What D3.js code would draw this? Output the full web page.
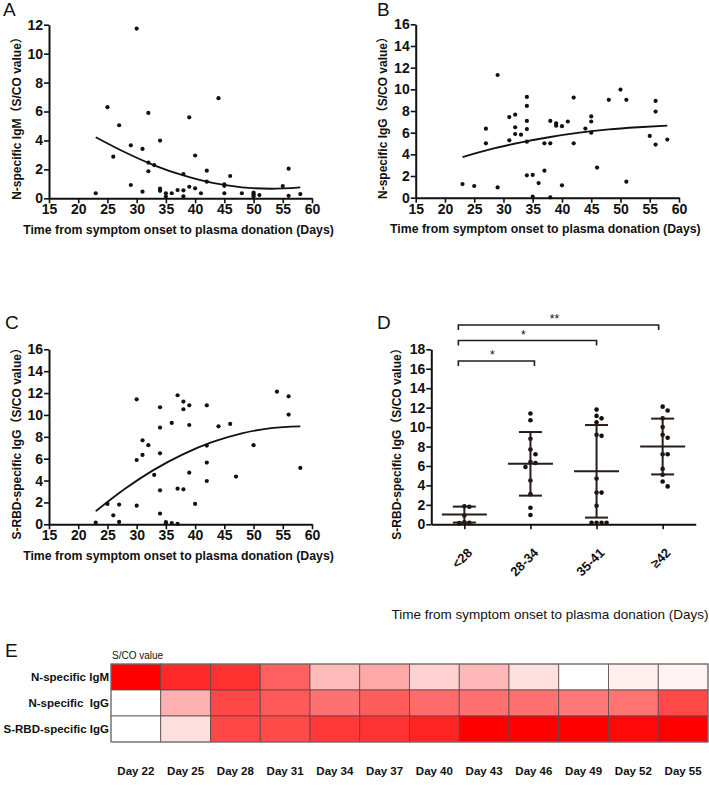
<!DOCTYPE html>
<html><head><meta charset="utf-8">
<script src="https://cdn.jsdelivr.net/npm/d3@7"></script>
<style>
body{margin:0;background:#fff;}
svg{display:block;font-family:"Liberation Sans",Arial,"Noto Sans CJK SC",sans-serif;}
</style></head><body>
<svg id="chart" width="709" height="792"></svg>
<script>
// ---------- DATA ----------
const dayTicks = [15,20,25,30,35,40,45,50,55,60];

// Panel A: N-specific IgM
const aDays = [23,25,26,27,29,29,30,31,31,32,32,32,33,34,34,34,35,35,36,37,38,38,38,39,39,40,40,41,42,42,44,45,45,45,46,48,50,50,50,51,55,56,56,58];
const aValues = [0.35,6.3,2.88,5.05,3.66,0.92,11.73,3.41,0.46,5.9,2.47,1.87,2.3,3.99,0.67,0.52,0.35,0.12,0.35,0.57,0.55,1.68,0.14,5.6,0.8,2.96,0.69,0.35,1.91,1.15,6.92,0.97,0.86,0.35,1.54,0.35,0.39,0.28,0.14,0.22,0.85,2.05,0.17,0.29];
const aFitDays = [23,28,33,38,43,48,53,58];
const aFitValues = [4.22,3.18,2.28,1.58,1.06,0.76,0.66,0.76];

// Panel B: N-specific IgG
const bDays = [23,25,27,27,29,29,31,31,32,32,32,33,34,34,34,34,34,34,35,35,36,37,37,38,38,38,39,39,40,40,41,42,42,44,45,45,45,46,48,50,51,51,55,56,56,56,58];
const bValues = [1.26,1.08,6.37,5.02,0.95,11.32,7.44,5.29,7.66,6.5,5.88,5.82,9.3,8.47,7.08,6.33,5.17,2.06,2.1,0.09,1.35,5.02,2.49,7.08,5.02,0.03,6.86,6.65,6.6,1.14,7.03,9.24,5.02,6.38,7.5,7.03,6.0,2.78,9.03,9.98,9.03,1.48,5.7,8.93,7.95,4.9,5.36];
const bFitDays = [23,28,33,38,43,48,53,58];
const bFitValues = [3.75,4.5,5.1,5.6,6.0,6.3,6.5,6.65];

// Panel C: S-RBD-specific IgG
const cDays = [23,25,26,27,27,30,30,30,31,31,32,33,34,34,34,34,34,35,35,36,36,37,37,37,38,38,38,39,39,39,40,42,42,42,42,44,46,47,50,54,56,56,58];
const cValues = [0.15,1.86,0.82,1.8,0.22,11.43,5.88,1.7,7.68,6.34,7.23,4.51,10.7,8.84,6.49,3.11,0.98,0.2,0.08,9.27,0.12,11.8,3.26,0.04,11.22,10.52,3.2,10.88,9.08,4.72,1.86,10.88,7.2,5.64,3.96,8.96,9.18,4.36,7.23,12.13,11.7,10.03,5.15];
const cFitDays = [23,28,33,38,43,48,53,58];
const cFitValues = [1.2,3.25,5.0,6.42,7.53,8.32,8.79,8.95];

// Panel D: S-RBD-specific IgG by group
const dGroups = ["<28","28-34","35-41","\u226542"];
const dPoints = [
  [1.85,1.8,0.9,0.2,0.15,0.12],
  [11.4,10.7,8.8,7.7,7.2,6.4,6.3,5.9,4.5,3.1,1.7,0.96],
  [11.8,11.15,10.9,10.5,9.2,9.1,4.7,3.26,3.26,1.9,0.15,0.15,0.15,0.15],
  [12.1,11.7,10.9,10.0,9.2,8.9,7.2,7.2,5.7,5.1,4.4,3.9]
];
const dMeans = [1.0,6.22,5.45,8.0];
const dSDs = [0.82,3.27,4.76,2.87];
const dBrackets = [
  {from:"<28", to:"\u226542", level:20.5, label:"**"},
  {from:"<28", to:"35-41", level:18.9, label:"*"},
  {from:"<28", to:"28-34", level:16.8, label:"*"}
];

// Panel E: heat map (relative S/CO intensity, 0 = white, 1 = red)
const eDays = ["Day 22","Day 25","Day 28","Day 31","Day 34","Day 37","Day 40","Day 43","Day 46","Day 49","Day 52","Day 55"];
const eRows = ["N-specific IgM","N-specific  IgG","S-RBD-specific IgG"];
const eIgM = [1.0,0.84,0.81,0.62,0.27,0.34,0.18,0.28,0.12,0.0,0.06,0.05];
const eIgG = [0.0,0.31,0.72,0.65,0.56,0.64,0.58,0.56,0.56,0.53,0.55,0.71];
const eRBD = [0.0,0.12,0.72,0.71,0.78,0.8,0.86,1.0,1.0,1.0,0.97,1.0];

// ---------- DRAW ----------
const svg = d3.select("#chart");
const ink = "#111";

function panelLabel(x,y,t){
  svg.append("text").attr("x",x).attr("y",y).attr("font-size",19).attr("fill",ink).text(t);
}

function styleAxis(g){
  g.select(".domain").attr("stroke",ink).attr("stroke-width",2);
  g.selectAll(".tick line").attr("stroke",ink).attr("stroke-width",1.6);
  g.selectAll(".tick text").attr("fill",ink).attr("font-size",14).attr("font-weight",700)
    .attr("font-family",'"Liberation Sans",Arial,sans-serif');
}

function yTitle(cx,cy,t,bold){
  svg.append("text").attr("transform",`translate(${cx},${cy}) rotate(-90)`)
    .attr("text-anchor","middle").attr("dy","0.35em")
    .attr("font-size",12).attr("font-weight",bold?700:400).attr("fill",ink).text(t);
}
function xTitle(cx,cy,t,bold,size){
  svg.append("text").attr("x",cx).attr("y",cy).attr("text-anchor","middle").attr("dy","0.35em")
    .attr("font-size",size).attr("font-weight",bold?700:400).attr("fill",ink).text(t);
}

function scatterPanel(o){
  const x = d3.scaleLinear().domain([15,60]).range([o.x0,o.x1]);
  const y = d3.scaleLinear().domain([0,o.ymax]).range([o.y0,o.y1]);
  const gx = svg.append("g").attr("transform",`translate(0,${o.y0})`)
    .call(d3.axisBottom(x).tickValues(dayTicks).tickSize(5).tickSizeOuter(0).tickPadding(1));
  styleAxis(gx);
  const gy = svg.append("g").attr("transform",`translate(${o.x0},0)`)
    .call(d3.axisLeft(y).tickValues(d3.range(0,o.ymax+1,2)).tickSize(5).tickSizeOuter(0).tickPadding(1));
  styleAxis(gy);
  svg.append("g").selectAll("circle").data(o.days.map((d,i)=>[d,o.values[i]])).join("circle")
    .attr("cx",d=>x(d[0])).attr("cy",d=>y(d[1])).attr("r",2.1).attr("fill",ink);
  const line = d3.line().x(d=>x(d[0])).y(d=>y(d[1])).curve(d3.curveMonotoneX);
  svg.append("path").attr("d",line(o.fitDays.map((d,i)=>[d,o.fitValues[i]])))
    .attr("fill","none").attr("stroke",ink).attr("stroke-width",1.8);
  yTitle(o.ytx,(o.y0+o.y1)/2+4,o.ytitle,true);
  xTitle((o.x0+o.x1)/2-2,o.y0+31,"Time from symptom onset to plasma donation (Days)",true,12.3);
}

scatterPanel({x0:49,x1:312,y0:198.3,y1:24.7,ymax:12,days:aDays,values:aValues,fitDays:aFitDays,fitValues:aFitValues,ytx:17,ytitle:"N-specific IgM\uff08S/CO value\uff09"});
scatterPanel({x0:415.7,x1:679,y0:197.7,y1:24.3,ymax:16,days:bDays,values:bValues,fitDays:bFitDays,fitValues:bFitValues,ytx:383,ytitle:"N-specific IgG\uff08S/CO value\uff09"});
scatterPanel({x0:49,x1:312,y0:524.3,y1:349.3,ymax:16,days:cDays,values:cValues,fitDays:cFitDays,fitValues:cFitValues,ytx:17,ytitle:"S-RBD-specific IgG\uff08S/CO value\uff09"});

panelLabel(3,16,"A");
panelLabel(377,16,"B");
panelLabel(5,329,"C");
panelLabel(377,329,"D");

// Panel D
(function(){
  const x = d3.scalePoint().domain(dGroups).range([431.3,695.7]).padding(0.5);
  const y = d3.scaleLinear().domain([0,18]).range([524.3,349.3]);
  const dark = "#2a1b18";
  const gx = svg.append("g").attr("transform","translate(0,524.3)")
    .call(d3.axisBottom(x).tickSize(5).tickSizeOuter(0).tickPadding(2));
  styleAxis(gx);
  gx.selectAll(".tick text").attr("x",0).attr("y",0).attr("dy","0.35em")
    .attr("transform","translate(5,26) rotate(-45)").style("text-anchor","end").attr("font-size",13);
  const gy = svg.append("g").attr("transform","translate(431.3,0)")
    .call(d3.axisLeft(y).tickValues(d3.range(0,19,2)).tickSize(5).tickSizeOuter(0).tickPadding(1));
  styleAxis(gy);

  const r = 2.3, step = 5;
  dGroups.forEach((gname,gi)=>{
    const cx = x(gname);
    const placed = [];
    const pts = dPoints[gi].map(v=>{
      const py = y(v);
      for(const k of [0,1,-1,2,-2,3,-3]){
        const px = k*step;
        if(placed.every(p=>Math.hypot(p[0]-px,p[1]-py) >= 2*r+0.4)){ placed.push([px,py]); return [cx+px,py]; }
      }
      return [cx,py];
    });
    svg.append("g").selectAll("circle").data(pts).join("circle")
      .attr("cx",d=>d[0]).attr("cy",d=>d[1]).attr("r",r).attr("fill",ink);
    const m = dMeans[gi], s = dSDs[gi];
    const g = svg.append("g").attr("stroke",dark).attr("stroke-width",2).attr("fill","none");
    g.append("line").attr("x1",cx).attr("x2",cx).attr("y1",y(m-s)).attr("y2",y(m+s));
    g.append("line").attr("x1",cx-22.5).attr("x2",cx+22.5).attr("y1",y(m)).attr("y2",y(m));
    g.append("line").attr("x1",cx-11.5).attr("x2",cx+11.5).attr("y1",y(m-s)).attr("y2",y(m-s));
    g.append("line").attr("x1",cx-11.5).attr("x2",cx+11.5).attr("y1",y(m+s)).attr("y2",y(m+s));
  });

  dBrackets.forEach(b=>{
    const x1 = x(b.from)-6, x2 = x(b.to) + (b.to==="\u226542"?-4:(b.to==="35-41"?0:4));
    const yy = y(b.level), tick = 5;
    svg.append("path").attr("d",`M${x1},${yy+tick}V${yy}H${x2}V${yy+tick}`)
      .attr("fill","none").attr("stroke",dark).attr("stroke-width",1.6);
    svg.append("text").attr("x",(x1+x2)/2-4).attr("y",yy-2).attr("text-anchor","middle")
      .attr("font-size",12).attr("fill",ink).text(b.label);
  });

  yTitle(397,441,"S-RBD-specific IgG\uff08S/CO value\uff09",true);
  xTitle(550,614,"Time from symptom onset to plasma donation (Days)",false,13.5);
})();

// Panel E heat map
(function(){
  const x = d3.scaleBand().domain(eDays).range([111,708]);
  const y = d3.scaleBand().domain(eRows).range([664,742]);
  const color = d3.interpolateRgb("#ffffff","#ff0000");
  const rows = [eIgM,eIgG,eRBD];
  const cells = [];
  rows.forEach((vals,ri)=>vals.forEach((v,ci)=>cells.push({row:eRows[ri],day:eDays[ci],v})));
  svg.append("g").selectAll("rect").data(cells).join("rect")
    .attr("x",d=>x(d.day)).attr("y",d=>y(d.row)).attr("width",x.bandwidth()).attr("height",y.bandwidth())
    .attr("fill",d=>color(d.v)).attr("stroke","#5a4a4a").attr("stroke-width",0.8);
  svg.append("rect").attr("x",111).attr("y",664).attr("width",597).attr("height",78)
    .attr("fill","none").attr("stroke","#777").attr("stroke-width",1);
  svg.append("g").selectAll("text").data(eRows).join("text")
    .attr("x",109).attr("y",d=>y(d)+y.bandwidth()/2).attr("dy","0.35em").attr("text-anchor","end")
    .attr("font-size",11.5).attr("font-weight",700).attr("fill",ink)
    .style("white-space","pre").text(d=>d);
  svg.append("g").selectAll("text").data(eDays).join("text")
    .attr("x",d=>x(d)+x.bandwidth()/2).attr("y",775).attr("text-anchor","middle")
    .attr("font-size",11.5).attr("font-weight",700).attr("fill",ink).text(d=>d);
  svg.append("text").attr("x",112).attr("y",659).attr("font-size",10).attr("fill",ink).text("S/CO value");
  panelLabel(5,657,"E");
})();
</script>
</body></html>
